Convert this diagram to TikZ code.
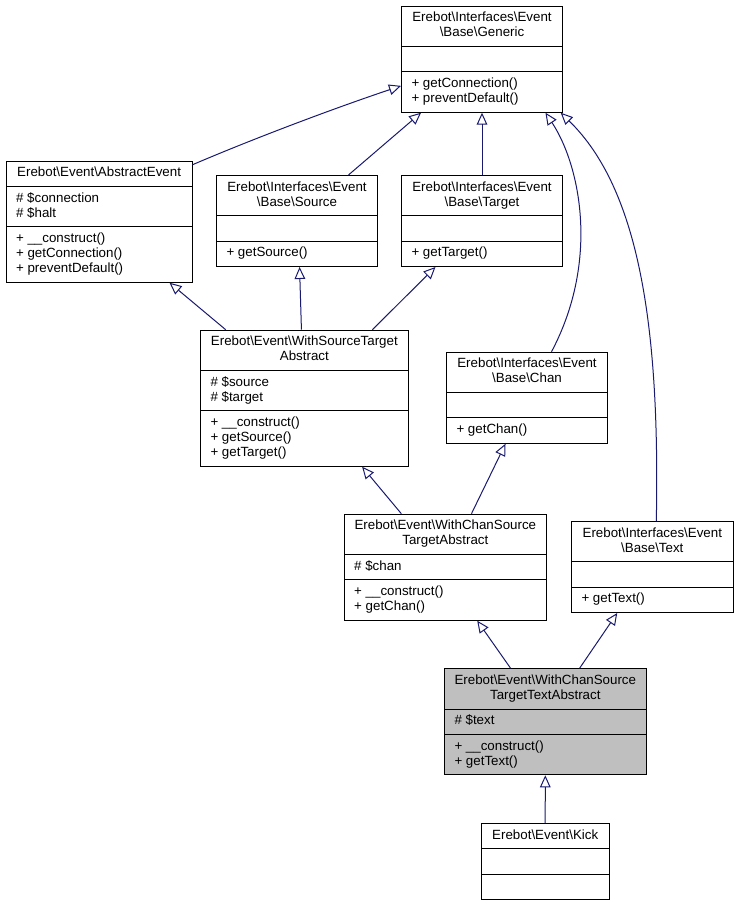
\documentclass[tikz,border=0pt]{standalone}
\usepackage{fontspec}
\setmainfont{Liberation Sans}
\usepackage{tikz}
\usetikzlibrary{shapes.multipart,arrows.meta}
\definecolor{edgeblue}{RGB}{25,25,112}
\newcommand{\bs}{\textbackslash}
\newcommand{\classfont}{\fontsize{10}{11.25}\selectfont}
\newcommand{\classtitle}[1]{\begin{tabular}{@{}c@{}}#1\end{tabular}}
\newcommand{\memberlist}[1]{\begin{tabular}{@{}l@{}}#1\end{tabular}}

\begin{document}
\begin{tikzpicture}[x=0.75pt, y=-0.75pt,
  umlclass/.style={rectangle split, rectangle split parts=3,
    rectangle split part align={center,left,left}, draw, line width=0.75pt,
    anchor=north west, inner xsep=7.5pt, inner ysep=3.5pt, font=\classfont},
  current/.style={umlclass, fill=black!25},
  inherit/.style={draw=edgeblue, line width=0.75pt,
    -{Triangle[open, length=9pt, width=8pt]}}]
\useasboundingbox (0,0) rectangle (733,905);
%%%%%%%%%%%%%%%%%%%%%%%%%%%%%%%%%%%%%%%%%%%%%%%%%%
% interfaces
%%%%%%%%%%%%%%%%%%%%%%%%%%%%%%%%%%%%%%%%%%%%%%%%%%
  \node[umlclass, minimum width=120.75pt] (generic) at (401,5.7)
    {\classtitle{Erebot\bs Interfaces\bs Event\\\bs Base\bs Generic}
     \nodepart{two}\strut
     \nodepart{three}\memberlist{+ getConnection()\\+ preventDefault()}};
  \node[umlclass, minimum width=120.75pt] (source) at (216,175)
    {\classtitle{Erebot\bs Interfaces\bs Event\\\bs Base\bs Source}
     \nodepart{two}\strut
     \nodepart{three}\memberlist{+ getSource()}};
  \node[umlclass, minimum width=120.75pt] (target) at (401,175)
    {\classtitle{Erebot\bs Interfaces\bs Event\\\bs Base\bs Target}
     \nodepart{two}\strut
     \nodepart{three}\memberlist{+ getTarget()}};
  \node[umlclass, minimum width=120.75pt] (chan) at (446,351.7)
    {\classtitle{Erebot\bs Interfaces\bs Event\\\bs Base\bs Chan}
     \nodepart{two}\strut
     \nodepart{three}\memberlist{+ getChan()}};
  \node[umlclass, minimum width=121.2pt] (text) at (571,521)
    {\classtitle{Erebot\bs Interfaces\bs Event\\\bs Base\bs Text}
     \nodepart{two}\strut
     \nodepart{three}\memberlist{+ getText()}};
%%%%%%%%%%%%%%%%%%%%%%%%%%%%%%%%%%%%%%%%%%%%%%%%%%
% classes
%%%%%%%%%%%%%%%%%%%%%%%%%%%%%%%%%%%%%%%%%%%%%%%%%%
  \node[umlclass, minimum width=139.5pt] (abstractevent) at (5.6,160.7)
    {\classtitle{Erebot\bs Event\bs AbstractEvent}
     \nodepart{two}\memberlist{\# \$connection\\\# \$halt}
     \nodepart{three}\memberlist{+ \_\_construct()\\+ getConnection()\\+ preventDefault()}};
  \node[umlclass, minimum width=155.8pt] (wst) at (200,329.7)
    {\classtitle{Erebot\bs Event\bs WithSourceTarget\\Abstract}
     \nodepart{two}\memberlist{\# \$source\\\# \$target}
     \nodepart{three}\memberlist{+ \_\_construct()\\+ getSource()\\+ getTarget()}};
  \node[umlclass, minimum width=151.7pt] (wcst) at (343.7,513.7)
    {\classtitle{Erebot\bs Event\bs WithChanSource\\TargetAbstract}
     \nodepart{two}\memberlist{\# \$chan}
     \nodepart{three}\memberlist{+ \_\_construct()\\+ getChan()}};
  \node[current, minimum width=151pt] (wcstt) at (444,668.3)
    {\classtitle{Erebot\bs Event\bs WithChanSource\\TargetTextAbstract}
     \nodepart{two}\memberlist{\# \$text}
     \nodepart{three}\memberlist{+ \_\_construct()\\+ getText()}};
  \node[umlclass, minimum width=96pt] (kick) at (480.7,823)
    {\classtitle{Erebot\bs Event\bs Kick}
     \nodepart{two}\strut
     \nodepart{three}\strut};
%%%%%%%%%%%%%%%%%%%%%%%%%%%%%%%%%%%%%%%%%%%%%%%%%%
% inheritance
%%%%%%%%%%%%%%%%%%%%%%%%%%%%%%%%%%%%%%%%%%%%%%%%%%
  \draw[inherit] ([yshift=-3pt]abstractevent.north east) .. controls (255,138) and (335,108) .. ([yshift=-20pt]generic.west);
  \draw[inherit] ([xshift=38.6pt]source.north) -- ([xshift=-45.7pt]generic.south);
  \draw[inherit] (target.north) -- (generic.south);
  \draw[inherit] ([xshift=18.4pt]chan.north) .. controls (600,260) and (580,165) .. ([xshift=47.6pt]generic.south);
  \draw[inherit] ([xshift=3pt]text.north) .. controls (660,330) and (640,190) .. ([xshift=59pt]generic.south);

  \draw[inherit] ([xshift=-59pt]wst.north) -- ([xshift=52.8pt]abstractevent.south);
  \draw[inherit] ([xshift=-2.2pt]wst.north) -- ([xshift=1.9pt]source.south);
  \draw[inherit] ([xshift=51pt]wst.north) -- ([xshift=-34.9pt]target.south);

  \draw[inherit] ([xshift=-33pt]wcst.north) -- ([xshift=43.3pt]wst.south);
  \draw[inherit] ([xshift=19.6pt]wcst.north) -- ([xshift=-16.1pt]chan.south);

  \draw[inherit] ([xshift=-26pt]wcstt.north) -- ([xshift=23.9pt]wcst.south);
  \draw[inherit] ([xshift=25.7pt]wcstt.north) -- ([xshift=-26.3pt]text.south);
  \draw[inherit] (kick.north) -- (wcstt.south);
\end{tikzpicture}
\end{document}
